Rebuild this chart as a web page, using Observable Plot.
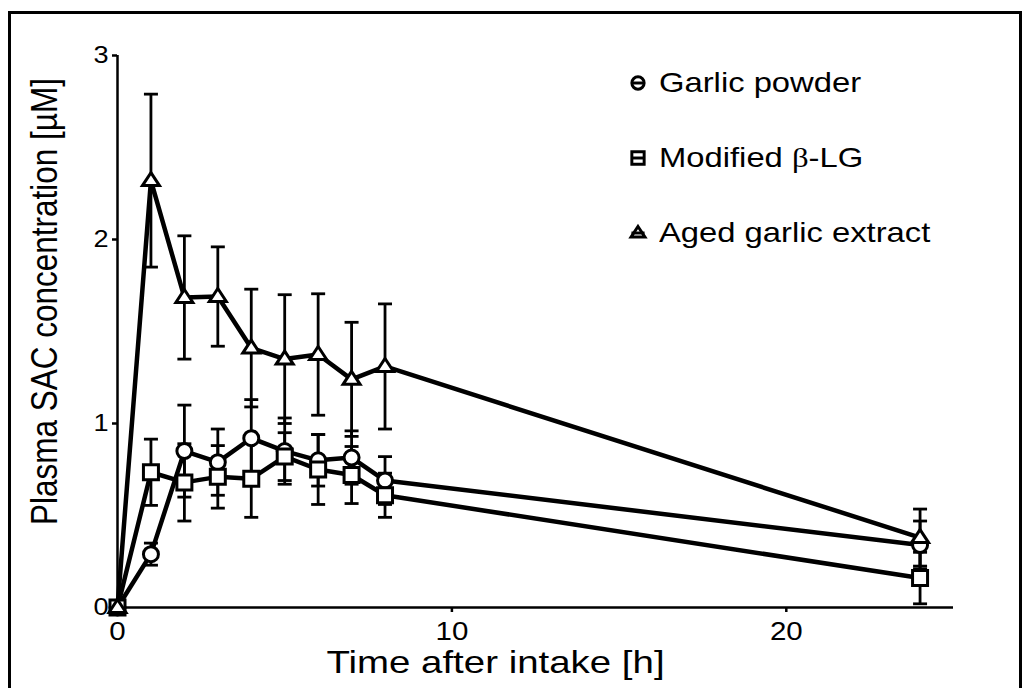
<!DOCTYPE html>
<html>
<head>
<meta charset="utf-8">
<script src="https://cdn.jsdelivr.net/npm/d3@7"></script>
<script src="https://cdn.jsdelivr.net/npm/@observablehq/plot@0.6"></script>
<style>
  html, body { margin: 0; padding: 0; background: #fff; width: 1024px; height: 688px; overflow: hidden; position: relative; font-family: "Liberation Sans", Arial, sans-serif; }
  #frame { position: absolute; left: 8px; top: 11px; width: 1008px; height: 720px; border: 3px solid #000; pointer-events: none; }
  #chart { position: absolute; left: 0; top: 0; }
  #legend { position: absolute; left: 626px; top: 45px; }
  .row { display: flex; align-items: center; height: 75px; }
  .row svg { width: 24px; height: 24px; flex: none; overflow: visible; }
  .row span.lab { font-size: 28px; margin-left: 9px; display: inline-block; transform: scaleX(1.17); transform-origin: left center; white-space: nowrap; color: #000; }
  .beta { font-family: "Liberation Serif", "DejaVu Serif", serif; }
</style>
</head>
<body>
<div id="chart"></div>
<div id="legend"></div>
<div id="frame"></div>
<script>
// ---- data ----
const times = [0, 1, 2, 3, 4, 5, 6, 7, 8, 24];
const seriesNames = ["Garlic powder", "Modified β-LG", "Aged garlic extract"];
const garlicMean = [0, 0.29, 0.85, 0.79, 0.92, 0.85, 0.80, 0.815, 0.69, 0.34];
const garlicErr  = [0, 0.06, 0.25, 0.18, 0.21, 0.18, 0.14, 0.145, 0.13, 0.13];
const lgMean     = [0, 0.735, 0.68, 0.71, 0.70, 0.82, 0.75, 0.72, 0.61, 0.16];
const lgErr      = [0, 0.18, 0.21, 0.17, 0.21, 0.13, 0.19, 0.155, 0.12, 0.14];
const agedMean   = [0, 2.32, 1.685, 1.69, 1.41, 1.35, 1.375, 1.24, 1.31, 0.38];
const agedErr    = [0, 0.47, 0.335, 0.27, 0.32, 0.35, 0.33, 0.31, 0.34, 0.155];
const xTicks = [0, 10, 20];
const yTicks = [0, 1, 2, 3];
const xTitle = "Time after intake [h]";
const yTitle = "Plasma SAC concentration [µM]";

const means = [garlicMean, lgMean, agedMean];
const errs = [garlicErr, lgErr, agedErr];
const rows = [];
seriesNames.forEach((s, i) => times.forEach((t, j) => rows.push({
  series: s, t, mean: means[i][j], err: errs[i][j],
  lo: means[i][j] - errs[i][j], hi: means[i][j] + errs[i][j]
})));
const errRows = rows.filter(d => d.err > 0);

// ---- symbols ----
const symCircle = {draw(ctx) { ctx.moveTo(7.5, 0); ctx.arc(0, 0, 7.5, 0, 2 * Math.PI); ctx.closePath(); }};
const symSquare = {draw(ctx) { ctx.moveTo(-7.5, -7.5); ctx.lineTo(7.5, -7.5); ctx.lineTo(7.5, 7.5); ctx.lineTo(-7.5, 7.5); ctx.closePath(); }};
const symTri = {draw(ctx) { ctx.moveTo(0, -8); ctx.lineTo(8.5, 5); ctx.lineTo(-8.5, 5); ctx.closePath(); }};
const symCap = {draw(ctx) { ctx.moveTo(-7, 0); ctx.lineTo(7, 0); }};
const symbols = [symCircle, symSquare, symTri];

const chart = Plot.plot({
  width: 1024,
  height: 688,
  marginLeft: 117,
  marginRight: 71,
  marginTop: 55,
  marginBottom: 81,
  style: {fontFamily: "'Liberation Sans', Arial, sans-serif", background: "transparent", color: "#000"},
  x: {domain: [0, 25]},
  y: {domain: [0, 3]},
  symbol: {domain: seriesNames, range: symbols},
  marks: [
    Plot.ruleX([0], {stroke: "#000", strokeWidth: 2.5}),
    Plot.ruleY([0], {stroke: "#000", strokeWidth: 2.5}),
    Plot.axisY({ticks: yTicks, tickSize: 5, tickPadding: 4, fontSize: 23, strokeWidth: 2.5, label: null, tickFormat: d => String(d)}),
    Plot.axisX({ticks: xTicks, tickSize: 5, tickPadding: 10, fontSize: 25, strokeWidth: 2.5, label: null, tickFormat: d => String(d)}),
    Plot.text([yTitle], {text: d => d, frameAnchor: "left", textAnchor: "middle", lineAnchor: "middle", rotate: -90, dx: -72, dy: -30, fontSize: 31.5, fill: "#000"}),
    Plot.text([xTitle], {text: d => d, frameAnchor: "bottom", textAnchor: "middle", lineAnchor: "middle", dx: -40, dy: 56, fontSize: 31, fill: "#000"}),
    Plot.ruleX(errRows, {x: "t", y1: "lo", y2: "hi", stroke: "#000", strokeWidth: 2.8}),
    Plot.dot(errRows, {x: "t", y: "hi", symbol: symCap, fill: "none", stroke: "#000", strokeWidth: 2.8, r: 7}),
    Plot.dot(errRows, {x: "t", y: "lo", symbol: symCap, fill: "none", stroke: "#000", strokeWidth: 2.8, r: 7}),
    Plot.line(rows, {x: "t", y: "mean", z: "series", stroke: "#000", strokeWidth: 4.5, strokeLinejoin: "round"}),
    Plot.dot(rows, {x: "t", y: "mean", symbol: "series", fill: "#fff", stroke: "#000", strokeWidth: 3, r: 7.5})
  ]
});

// horizontal stretch of the texts, as in the reference
chart.querySelectorAll("text").forEach(t => {
  let tr = t.getAttribute("transform");
  if (!tr) {
    const x = +t.getAttribute("x") || 0, y = +t.getAttribute("y") || 0;
    t.removeAttribute("x"); t.removeAttribute("y");
    tr = `translate(${x},${y})`;
  }
  const sx = t.textContent === xTitle ? 1.24 : 1.18;
  t.setAttribute("transform", tr + (tr.includes("rotate") ? ` scale(1,${sx})` : ` scale(${sx},1)`));
});
document.getElementById("chart").appendChild(chart);

// ---- legend ----
const legend = document.getElementById("legend");
seriesNames.forEach((s, i) => {
  const p = d3.path();
  symbols[i].draw(p);
  const row = document.createElement("div");
  row.className = "row";
  const label = s.replace("β", '<span class="beta">β</span>');
  row.innerHTML = `<svg viewBox="-12 -12 24 24"><g transform="scale(0.82)"><path d="${p}" fill="#fff" stroke="#000" stroke-width="3.6"/><line x1="-8" x2="8" y1="0" y2="0" stroke="#000" stroke-width="3.6"/></g></svg><span class="lab">${label}</span>`;
  legend.appendChild(row);
});
</script>
</body>
</html>
